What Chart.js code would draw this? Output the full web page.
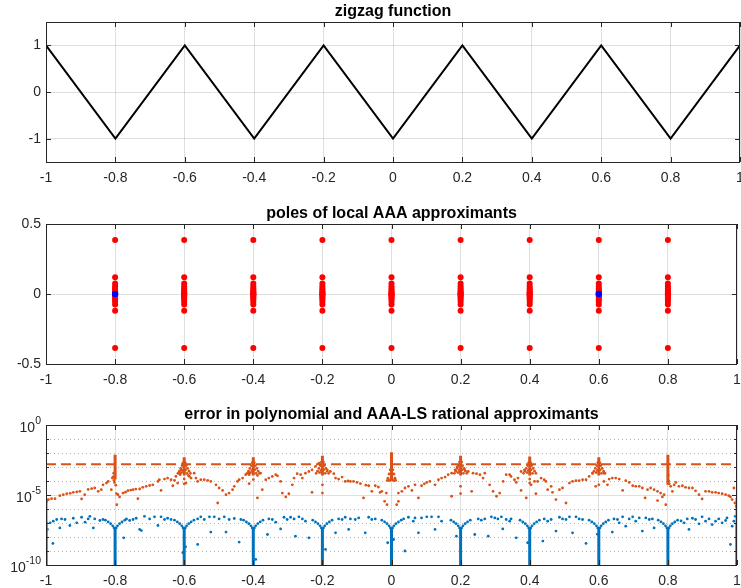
<!DOCTYPE html>
<html>
<head>
<meta charset="utf-8">
<script src="https://cdn.jsdelivr.net/npm/chart.js@4.4.1/dist/chart.umd.min.js"></script>
<style>
  html, body { margin: 0; padding: 0; background: #fff; overflow: hidden; }
  #wrap { position: relative; width: 741px; height: 588px; }
  canvas { position: absolute; left: 0; }
</style>
</head>
<body>
<div id="wrap">
  <canvas id="zigzag" width="741" height="192" style="top:0px"></canvas>
  <canvas id="poles" width="741" height="192" style="top:202px"></canvas>
  <canvas id="errors" width="741" height="192" style="top:403px"></canvas>
</div>
<script>
// ---- data ----
const xTicks = [-1, -0.8, -0.6, -0.4, -0.2, 0, 0.2, 0.4, 0.6, 0.8, 1];

// zigzag function
const zigX = [-1, -0.8, -0.6, -0.4, -0.2, 0, 0.2, 0.4, 0.6, 0.8, 1];
const zigY = [1, -1, 1, -1, 1, -1, 1, -1, 1, -1, 1];

// poles (real part = kink location, imaginary part from the list)
const kinks = [-0.8, -0.6, -0.4, -0.2, 0, 0.2, 0.4, 0.6, 0.8];
const poleImag = [0.386, 0.12, 0.075, 0.055, 0.04, 0.028, 0.018, 0.01, 0.004, 0,
  -0.004, -0.01, -0.018, -0.028, -0.04, -0.055, -0.075, -0.12, -0.386];
const realPoleX = [-0.8, 0.6];
const realPoleY = [0, 0];

// error plot: tick decades and labels (10 to the power shown)
const errDecades = [0, -1, -2, -3, -4, -5, -6, -7, -8, -9, -10];
const errTickExp = [0, -5, -10];
const errTickBase = '10';
const errTickSup = ['0', '-5', '-10'];
const polyMaxErr = 1.6e-3;

// vertical runs of dense points (log10 of error)
const lineX = [-1, -0.8, -0.6, -0.4, -0.2, 0, 0.2, 0.4, 0.6, 0.8, 1];
const polyLineTop = [-5.4, -2.13, -2.3, -2.3, -2.2, -1.94, -2.2, -2.25, -2.3, -2.13, -5.2];
const polyLineBottom = [-10, -3.9, -3.6, -3.6, -3.6, -3.95, -3.6, -3.6, -3.6, -4.27, -10];
const ratLineTop = [-6.9, -7.35, -7.35, -7.35, -7.35, -7.35, -7.35, -7.35, -7.35, -7.35, -7.0];
const ratLineBottom = [-10, -10, -10, -10, -10, -10, -10, -10, -10, -10, -10];

// polynomial error samples [x, log10(err)]
const polyErrPts = [
  [-0.999,-5.5],[-0.997,-5.35],[-0.993,-5.33],[-0.984,-5.26],[-0.974,-5.26],[-0.960,-5.05],[-0.950,-4.98],[-0.940,-4.91],
  [-0.930,-4.88],[-0.921,-4.81],[-0.911,-4.78],[-0.902,-4.74],[-0.897,-5.28],[-0.888,-4.98],[-0.878,-4.6],[-0.868,-4.55],
  [-0.859,-4.50],[-0.849,-4.74],[-0.840,-4.62],[-0.835,-4.27],[-0.825,-4.15],[-0.820,-4.03],[-0.811,-4.62],[-0.808,-3.79],
  [-0.804,-3.44],[-0.806,-3.7],[-0.803,-3.95],[-0.802,-4.1],
  [-0.798,-4.3],[-0.796,-4.9],[-0.795,-5.69],[-0.792,-4.98],[-0.787,-5.14],[-0.777,-4.86],[-0.770,-4.80],[-0.763,-4.69],
  [-0.755,-4.65],[-0.748,-4.62],[-0.740,-4.58],[-0.734,-5.26],[-0.729,-4.57],[-0.720,-4.45],[-0.710,-4.38],[-0.700,-4.32],
  [-0.691,-4.27],[-0.676,-4.03],
  [-0.672,-3.91],[-0.667,-4.67],[-0.657,-3.86],[-0.648,-3.79],[-0.638,-3.91],[-0.633,-4.34],[-0.628,-3.96],[-0.624,-3.67],
  [-0.619,-4.15],[-0.614,-3.44],[-0.609,-3.20],
  [-0.618,-3.45],[-0.614,-3.3],[-0.61,-3.1],[-0.606,-2.9],[-0.603,-2.7],[-0.597,-2.7],[-0.594,-2.9],[-0.59,-3.1],
  [-0.586,-3.3],[-0.582,-3.45],[-0.608,-3.4],[-0.592,-3.45],[-0.604,-3.25],[-0.596,-3.2],[-0.612,-3.55],[-0.588,-3.6],
  [-0.6,-3.85],[-0.6,-4.2],
  [-0.595,-4.15],[-0.585,-3.67],[-0.580,-3.79],[-0.571,-3.44],[-0.566,-3.79],[-0.561,-4.03],[-0.552,-3.91],[-0.542,-3.91],
  [-0.532,-3.96],[-0.523,-4.03],[-0.508,-4.27],[-0.503,-5.57],[-0.499,-4.50],[-0.489,-4.67],[-0.479,-4.98],[-0.470,-4.86],
  [-0.460,-4.62],[-0.455,-4.38],[-0.446,-4.03],[-0.441,-3.91],[-0.431,-3.79],[-0.422,-3.55],[-0.412,-3.44],[-0.412,-4.19],
  [-0.418,-3.45],[-0.414,-3.3],[-0.41,-3.1],[-0.406,-2.9],[-0.403,-2.7],[-0.397,-2.7],[-0.394,-2.9],[-0.39,-3.1],
  [-0.386,-3.3],[-0.382,-3.45],[-0.408,-3.4],[-0.392,-3.45],[-0.404,-3.25],[-0.396,-3.2],[-0.412,-3.55],[-0.388,-3.6],
  [-0.4,-3.9],
  [-0.388,-5.21],[-0.379,-3.44],[-0.374,-4.62],[-0.364,-3.91],[-0.355,-3.79],[-0.345,-3.67],[-0.335,-3.55],[-0.330,-3.63],
  [-0.321,-4.03],[-0.316,-4.86],[-0.306,-5.14],[-0.297,-4.91],[-0.287,-4.27],[-0.282,-3.79],[-0.273,-3.48],[-0.263,-3.55],
  [-0.258,-3.79],[-0.249,-3.44],[-0.239,-3.32],[-0.230,-4.81],[-0.230,-3.20],[-0.220,-2.96],[-0.210,-2.73],
  [-0.218,-3.45],[-0.214,-3.3],[-0.21,-3.1],[-0.206,-2.9],[-0.203,-2.65],[-0.197,-2.65],[-0.194,-2.9],[-0.19,-3.1],
  [-0.186,-3.3],[-0.182,-3.45],[-0.208,-3.4],[-0.192,-3.45],[-0.204,-3.25],[-0.196,-3.2],[-0.2,-4.27],[-0.2,-4.86],
  [-0.186,-3.20],[-0.177,-3.32],[-0.167,-3.48],[-0.162,-3.79],[-0.153,-3.86],[-0.143,-3.72],[-0.134,-4.03],[-0.126,-4.0],
  [-0.119,-4.03],[-0.110,-4.03],[-0.100,-4.10],[-0.090,-4.19],[-0.081,-5.21],[-0.074,-4.3],[-0.066,-4.34],[-0.057,-4.74],
  [-0.047,-4.34],[-0.038,-4.43],[-0.033,-4.81],[-0.028,-4.74],[-0.020,-5.45],[-0.015,-4.86],[-0.013,-5.69],
  [-0.012,-3.95],[-0.01,-3.8],[-0.007,-3.5],[-0.004,-3.2],[0.004,-3.2],[0.007,-3.5],[0.01,-3.8],[0.012,-3.95],
  [-0.008,-3.97],[0.008,-3.97],[-0.004,-3.95],[0.004,-3.95],
  [0.015,-5.69],[0.020,-5.45],[0.020,-4.86],[0.030,-4.74],[0.039,-4.50],[0.049,-4.38],[0.059,-4.67],[0.068,-4.27],
  [0.078,-5.21],[0.087,-4.34],[0.095,-4.2],[0.102,-4.10],[0.111,-4.03],[0.126,-4.27],[0.136,-3.91],[0.145,-3.79],
  [0.155,-3.72],[0.164,-3.55],[0.174,-5.09],[0.174,-3.44],[0.184,-3.20],[0.190,-3.0],
  [0.182,-3.45],[0.186,-3.3],[0.19,-3.1],[0.194,-2.9],[0.197,-2.65],[0.203,-2.65],[0.206,-2.9],[0.21,-3.1],
  [0.214,-3.3],[0.218,-3.45],[0.192,-3.4],[0.208,-3.45],[0.196,-3.25],[0.204,-3.2],[0.2,-4.9],[0.2,-4.38],
  [0.212,-3.20],[0.222,-3.32],[0.232,-4.74],[0.236,-3.44],[0.246,-3.48],[0.256,-3.55],[0.265,-3.79],[0.270,-3.44],
  [0.284,-4.27],[0.294,-4.74],[0.304,-5.09],[0.313,-4.86],[0.323,-4.03],[0.332,-3.55],[0.342,-3.55],[0.346,-3.67],
  [0.356,-3.91],[0.361,-4.10],[0.366,-3.79],[0.375,-4.67],[0.375,-3.32],[0.385,-3.20],[0.390,-5.21],
  [0.382,-3.45],[0.386,-3.3],[0.39,-3.1],[0.394,-2.9],[0.397,-2.7],[0.403,-2.7],[0.406,-2.9],[0.41,-3.1],
  [0.414,-3.3],[0.418,-3.45],[0.392,-3.4],[0.408,-3.45],[0.396,-3.25],[0.404,-3.2],[0.4,-3.86],[0.4,-4.15],
  [0.404,-4.27],[0.414,-4.03],[0.418,-4.91],[0.423,-4.03],[0.433,-3.79],[0.442,-3.91],[0.447,-4.03],[0.452,-4.62],
  [0.462,-4.38],[0.466,-4.81],[0.476,-5.33],[0.486,-4.62],[0.495,-4.50],[0.505,-5.57],[0.515,-4.15],[0.524,-4.03],
  [0.534,-3.98],[0.543,-3.98],[0.553,-3.91],[0.563,-3.91],[0.572,-3.67],[0.582,-3.44],[0.591,-4.38],
  [0.582,-3.45],[0.586,-3.3],[0.59,-3.1],[0.594,-2.9],[0.597,-2.7],[0.603,-2.7],[0.606,-2.9],[0.61,-3.1],
  [0.614,-3.3],[0.618,-3.45],[0.592,-3.4],[0.608,-3.45],[0.596,-3.25],[0.604,-3.2],[0.6,-4.27],
  [0.615,-3.44],[0.615,-4.03],[0.625,-4.27],[0.630,-3.86],[0.639,-3.79],[0.649,-3.79],[0.659,-3.86],[0.669,-4.67],
  [0.678,-3.98],[0.688,-4.10],[0.698,-4.34],[0.707,-4.38],[0.717,-4.38],[0.726,-4.50],[0.734,-5.21],[0.741,-4.62],
  [0.750,-4.50],[0.760,-4.62],[0.770,-4.74],[0.770,-5.40],[0.779,-4.86],[0.784,-5.14],[0.789,-4.98],[0.794,-5.69],
  [0.801,-3.6],[0.802,-4.0],[0.804,-4.2],[0.808,-4.38],[0.813,-4.74],[0.818,-4.27],[0.823,-4.10],[0.832,-4.38],
  [0.842,-4.34],[0.851,-4.45],[0.861,-4.50],[0.871,-4.50],[0.880,-4.7],[0.890,-4.98],[0.899,-5.28],[0.909,-4.74],
  [0.919,-4.74],[0.928,-4.81],[0.938,-4.81],[0.947,-4.86],[0.957,-4.91],[0.967,-4.98],[0.976,-5.05],[0.981,-5.14],
  [0.986,-5.33],[0.991,-4.50],[0.994,-5.57],[0.998,-5.8]
];

// AAA-LS rational error samples [x, log10(err)]
const ratErrPts = [
  [-0.996,-7.46],[-0.988,-6.99],[-0.980,-8.46],[-0.979,-6.87],[-0.969,-6.75],[-0.960,-7.35],[-0.955,-6.71],[-0.945,-6.75],
  [-0.931,-7.18],[-0.921,-6.66],[-0.911,-6.99],[-0.897,-6.59],[-0.887,-6.94],[-0.878,-6.71],[-0.873,-6.52],[-0.863,-7.35],
  [-0.859,-6.71],[-0.844,-6.82],[-0.835,-6.75],
  [-0.828,-6.8],[-0.82,-6.92],[-0.813,-7.05],[-0.807,-7.2],[-0.803,-7.35],[-0.797,-7.35],[-0.793,-7.2],[-0.787,-7.05],
  [-0.78,-6.92],[-0.772,-6.8],
  [-0.775,-8.06],[-0.767,-6.71],[-0.758,-6.82],[-0.748,-6.75],[-0.739,-6.66],[-0.729,-7.46],[-0.724,-7.54],[-0.715,-6.52],
  [-0.700,-6.71],[-0.686,-6.56],[-0.676,-7.18],[-0.667,-6.56],[-0.657,-6.75],[-0.648,-6.66],[-0.638,-6.75],
  [-0.628,-6.8],[-0.62,-6.92],[-0.613,-7.05],[-0.607,-7.2],[-0.603,-7.35],[-0.597,-7.35],[-0.593,-7.2],[-0.587,-7.05],
  [-0.58,-6.92],[-0.572,-6.8],
  [-0.604,-9.12],[-0.596,-8.7],[-0.561,-8.53],[-0.561,-6.71],[-0.552,-6.56],[-0.542,-6.75],[-0.527,-6.56],[-0.523,-7.65],
  [-0.513,-6.56],[-0.499,-6.71],[-0.484,-6.56],[-0.479,-7.65],[-0.470,-6.75],[-0.455,-6.68],[-0.441,-8.36],[-0.436,-6.75],
  [-0.428,-6.8],[-0.42,-6.92],[-0.413,-7.05],[-0.407,-7.2],[-0.403,-7.35],[-0.397,-7.35],[-0.393,-7.2],[-0.387,-7.05],
  [-0.38,-6.92],[-0.372,-6.8],
  [-0.393,-9.6],[-0.359,-7.82],[-0.355,-6.71],[-0.345,-6.75],[-0.335,-6.94],[-0.321,-7.42],[-0.311,-6.59],[-0.302,-6.75],
  [-0.292,-6.59],[-0.282,-6.71],[-0.278,-7.94],[-0.268,-6.56],[-0.258,-6.71],[-0.249,-6.87],[-0.239,-8.06],
  [-0.228,-6.8],[-0.22,-6.92],[-0.213,-7.05],[-0.207,-7.2],[-0.203,-7.35],[-0.197,-7.35],[-0.193,-7.2],[-0.187,-7.05],
  [-0.18,-6.92],[-0.172,-6.8],
  [-0.191,-8.89],[-0.162,-7.70],[-0.153,-6.71],[-0.143,-6.75],[-0.134,-6.59],[-0.124,-7.46],[-0.119,-6.71],[-0.105,-6.75],
  [-0.095,-6.64],[-0.076,-7.70],[-0.066,-6.59],[-0.057,-6.75],[-0.047,-6.71],
  [-0.028,-6.8],[-0.02,-6.92],[-0.013,-7.05],[-0.007,-7.2],[-0.003,-7.35],[0.003,-7.35],[0.007,-7.2],[0.013,-7.05],
  [0.02,-6.92],[0.028,-6.8],
  [-0.011,-8.41],[0.006,-8.18],[0.035,-6.71],[0.039,-9.00],[0.049,-6.59],[0.063,-6.87],[0.068,-6.64],[0.078,-7.70],
  [0.087,-6.64],[0.102,-6.56],[0.116,-6.56],[0.126,-7.46],[0.136,-6.56],[0.145,-6.87],
  [0.172,-6.8],[0.18,-6.92],[0.187,-7.05],[0.193,-7.2],[0.197,-7.35],[0.203,-7.35],[0.207,-7.2],[0.213,-7.05],
  [0.22,-6.92],[0.228,-6.8],
  [0.188,-7.94],[0.241,-7.82],[0.251,-6.71],[0.260,-6.80],[0.270,-6.71],[0.280,-7.94],[0.289,-6.56],[0.299,-6.64],
  [0.308,-6.71],[0.318,-6.56],[0.322,-7.42],[0.332,-6.75],[0.342,-6.87],[0.346,-6.71],[0.361,-8.06],
  [0.372,-6.8],[0.38,-6.92],[0.387,-7.05],[0.393,-7.2],[0.397,-7.35],[0.403,-7.35],[0.407,-7.2],[0.413,-7.05],
  [0.42,-6.92],[0.428,-6.8],
  [0.394,-8.41],[0.438,-8.29],[0.442,-6.71],[0.452,-6.87],[0.462,-6.75],[0.476,-7.58],[0.486,-6.59],[0.495,-6.71],
  [0.505,-6.75],[0.515,-6.56],[0.524,-7.70],[0.534,-6.56],[0.543,-6.71],[0.553,-6.75],[0.563,-8.46],
  [0.572,-6.8],[0.58,-6.92],[0.587,-7.05],[0.593,-7.2],[0.597,-7.35],[0.603,-7.35],[0.607,-7.2],[0.613,-7.05],
  [0.62,-6.92],[0.628,-6.8],
  [0.596,-7.8],[0.639,-7.65],[0.644,-6.71],[0.654,-6.75],[0.659,-6.99],[0.669,-6.56],[0.678,-7.23],[0.688,-6.71],
  [0.698,-6.56],[0.707,-6.87],[0.717,-6.64],[0.726,-7.58],[0.736,-6.64],[0.746,-6.75],[0.755,-6.71],[0.760,-7.35],
  [0.772,-6.8],[0.78,-6.92],[0.787,-7.05],[0.793,-7.2],[0.797,-7.35],[0.803,-7.35],[0.807,-7.2],[0.813,-7.05],
  [0.82,-6.92],[0.828,-6.8],
  [0.838,-6.85],[0.847,-6.99],[0.856,-6.71],[0.861,-7.46],[0.871,-6.66],[0.880,-6.75],[0.890,-7.06],[0.899,-6.56],
  [0.909,-6.87],[0.919,-6.71],[0.928,-7.11],[0.938,-6.87],[0.947,-6.71],[0.957,-6.99],[0.967,-6.82],[0.971,-6.64],
  [0.981,-8.53],[0.986,-7.23],[0.991,-6.87],[0.995,-6.52]
];

// ---- styling ----
const FONT = "'Liberation Sans', Arial, Helvetica, sans-serif";
const AXIS_COLOR = '#262626';
const GRID_COLOR = 'rgba(38,38,38,0.15)';
const ORANGE = 'rgb(217,83,25)';
const BLUE = 'rgb(0,114,189)';
const TICK_SIZE = 14;

// MATLAB-like box with inward tick marks, dotted minor grid and power-of-ten labels
const matlabBox = {
  id: 'matlabBox',
  beforeDatasetsDraw(chart, args, opts) {
    if (!opts.minorY) return;
    const { ctx, chartArea: a } = chart;
    const y = chart.scales.y;
    ctx.save();
    ctx.strokeStyle = 'rgba(38,38,38,0.35)';
    ctx.lineWidth = 1;
    ctx.setLineDash([1, 3]);
    opts.minorY.forEach((v) => {
      const py = Math.round(y.getPixelForValue(v)) + 0.5;
      ctx.beginPath();
      ctx.moveTo(a.left, py);
      ctx.lineTo(a.right, py);
      ctx.stroke();
    });
    ctx.restore();
  },
  afterDatasetsDraw(chart, args, opts) {
    const { ctx, chartArea: a } = chart;
    const { x, y } = chart.scales;
    const minor = opts.minorY || [];
    ctx.save();
    ctx.strokeStyle = AXIS_COLOR;
    ctx.lineWidth = 1;
    ctx.beginPath();
    x.ticks.forEach((t) => {
      const px = Math.round(x.getPixelForValue(t.value)) + 0.5;
      ctx.moveTo(px, a.top); ctx.lineTo(px, a.top + 5);
      ctx.moveTo(px, a.bottom); ctx.lineTo(px, a.bottom - 5);
    });
    y.ticks.forEach((t) => {
      const len = minor.includes(t.value) ? 3 : 5;
      const py = Math.round(y.getPixelForValue(t.value)) + 0.5;
      ctx.moveTo(a.left, py); ctx.lineTo(a.left + len, py);
      ctx.moveTo(a.right, py); ctx.lineTo(a.right - len, py);
    });
    ctx.stroke();
    ctx.strokeRect(a.left + 0.5, a.top + 0.5, a.right - a.left - 1, a.bottom - a.top);

    // "10" with raised exponent for the log axis
    if (opts.powerLabels) {
      ctx.fillStyle = AXIS_COLOR;
      ctx.textBaseline = 'middle';
      ctx.textAlign = 'left';
      const right = a.left - 5;
      opts.powerLabels.forEach(([v, base, sup]) => {
        const py = y.getPixelForValue(v);
        ctx.font = `10.5px ${FONT}`;
        const ws = ctx.measureText(sup).width;
        ctx.font = `${TICK_SIZE}px ${FONT}`;
        const wb = ctx.measureText(base).width;
        ctx.fillText(base, right - ws - wb, py + 3);
        ctx.font = `10.5px ${FONT}`;
        ctx.fillText(sup, right - ws, py - 4);
      });
    }
    ctx.restore();
  }
};

const tickFont = { family: FONT, size: TICK_SIZE };

const xAxis = () => ({
  type: 'linear',
  min: -1,
  max: 1,
  afterBuildTicks: (s) => { s.ticks = xTicks.map((v) => ({ value: v })); },
  afterFit: (s) => { s.height = 30; s.paddingLeft = 0; s.paddingRight = 0; },
  grid: { color: GRID_COLOR, drawTicks: false },
  border: { display: false },
  ticks: {
    color: AXIS_COLOR, font: tickFont, padding: 8, maxRotation: 0, autoSkip: false,
    callback: (v) => String(Number(v.toFixed(1)))
  }
});

const yAxis = (min, max, list) => ({
  type: 'linear',
  min: min,
  max: max,
  afterBuildTicks: (s) => { s.ticks = list.map((v) => ({ value: v })); },
  afterFit: (s) => { s.width = 46; s.paddingTop = 0; s.paddingBottom = 0; },
  grid: { color: GRID_COLOR, drawTicks: false },
  border: { display: false },
  ticks: { color: AXIS_COLOR, font: tickFont, padding: 5, callback: (v) => String(v) }
});

const baseOptions = (title, scales, boxOpts) => ({
  responsive: false,
  animation: false,
  layout: { padding: { left: 0, right: 1, top: 0, bottom: 0 } },
  scales: scales,
  plugins: {
    legend: { display: false },
    tooltip: { enabled: false },
    title: {
      display: true,
      text: title,
      color: '#000',
      fullSize: false,
      font: { family: FONT, size: 16, weight: 'bold', lineHeight: 1 },
      padding: { top: 4, bottom: 2 }
    },
    matlabBox: boxOpts || {}
  }
});

// ---- chart 1: zigzag ----
new Chart(document.getElementById('zigzag'), {
  type: 'scatter',
  data: {
    datasets: [{
      data: zigX.map((x, i) => ({ x: x, y: zigY[i] })),
      showLine: true,
      borderColor: '#000',
      borderWidth: 2,
      pointRadius: 0
    }]
  },
  options: baseOptions('zigzag function', { x: xAxis(), y: yAxis(-1.5, 1.5, [-1, 0, 1]) }),
  plugins: [matlabBox]
});

// ---- chart 2: poles ----
const polePts = [];
kinks.forEach((k) => poleImag.forEach((im) => polePts.push({ x: k, y: im })));

new Chart(document.getElementById('poles'), {
  type: 'scatter',
  data: {
    datasets: [
      {
        data: realPoleX.map((x, i) => ({ x: x, y: realPoleY[i] })),
        backgroundColor: 'rgb(0,0,255)', borderWidth: 0, pointRadius: 3.2
      },
      {
        data: polePts,
        backgroundColor: 'rgb(255,0,0)', borderWidth: 0, pointRadius: 3
      }
    ]
  },
  options: baseOptions('poles of local AAA approximants', { x: xAxis(), y: yAxis(-0.5, 0.5, [-0.5, 0, 0.5]) }),
  plugins: [matlabBox]
});

// ---- chart 3: errors ----
const toPts = (arr) => arr.map(([x, e]) => ({ x: x, y: Math.pow(10, e) }));
const runs = (tops, bottoms) => {
  const out = [];
  lineX.forEach((x, i) => {
    out.push({ x: x, y: Math.pow(10, tops[i]) }, { x: x, y: Math.pow(10, bottoms[i]) }, { x: x, y: null });
  });
  return out;
};
const expOf = (v) => Math.round(Math.log10(v));

const errY = {
  type: 'logarithmic',
  min: 1e-10,
  max: 1,
  afterBuildTicks: (s) => { s.ticks = errDecades.map((e) => ({ value: Math.pow(10, e) })); },
  afterFit: (s) => { s.width = 46; s.paddingTop = 0; s.paddingBottom = 0; },
  grid: {
    color: (c) => (c.tick && errTickExp.includes(expOf(c.tick.value)) ? GRID_COLOR : 'rgba(0,0,0,0)'),
    drawTicks: false
  },
  border: { display: false },
  ticks: { display: false }
};

new Chart(document.getElementById('errors'), {
  type: 'scatter',
  data: {
    datasets: [
      {
        data: [{ x: -1, y: polyMaxErr }, { x: 1, y: polyMaxErr }],
        showLine: true, borderColor: ORANGE, borderWidth: 2, borderDash: [10, 5], pointRadius: 0, order: 0
      },
      {
        data: toPts(polyErrPts),
        backgroundColor: ORANGE, borderWidth: 0, pointRadius: 1.4, order: 1
      },
      {
        data: runs(polyLineTop, polyLineBottom),
        showLine: true, spanGaps: false, borderColor: ORANGE, borderWidth: 3, pointRadius: 0, order: 2
      },
      {
        data: toPts(ratErrPts),
        backgroundColor: BLUE, borderWidth: 0, pointRadius: 1.4, order: 3
      },
      {
        data: runs(ratLineTop, ratLineBottom),
        showLine: true, spanGaps: false, borderColor: BLUE, borderWidth: 3, pointRadius: 0, order: 4
      }
    ]
  },
  options: baseOptions('error in polynomial and AAA-LS rational approximants', { x: xAxis(), y: errY }, {
    minorY: errDecades.filter((e) => !errTickExp.includes(e)).map((e) => Math.pow(10, e)),
    powerLabels: errTickExp.map((e, i) => [Math.pow(10, e), errTickBase, errTickSup[i]])
  }),
  plugins: [matlabBox]
});
</script>
</body>
</html>
